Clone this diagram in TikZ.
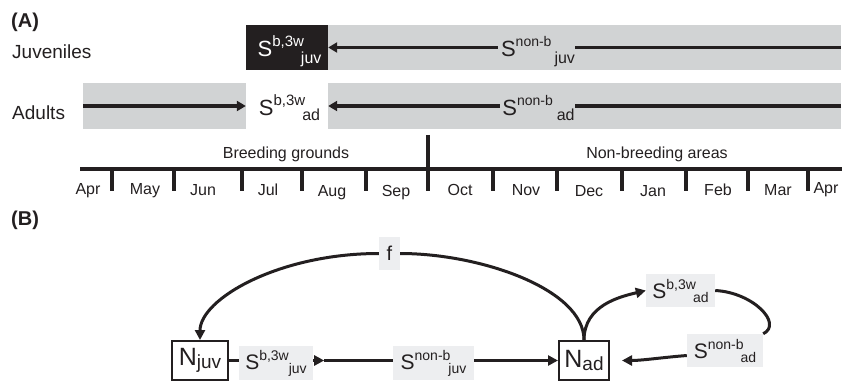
\documentclass[tikz,border=0pt]{standalone}
\usepackage{fontspec}
\setmainfont{Liberation Sans}
\usetikzlibrary{arrows.meta,calc}
\definecolor{barg}{HTML}{D1D3D4}
\definecolor{labg}{HTML}{EDEEF0}
\definecolor{ink}{HTML}{231F20}
\newcommand{\fs}[1]{\fontsize{#1}{#1}\selectfont}
\newcommand{\myup}[3]{\raisebox{#1}{\fs{#2}#3}}
\begin{document}
\begin{tikzpicture}[x=1pt,y=-1pt,
  ln/.style={line width=3pt, draw=ink},
  lnA/.style={line width=3.4pt, draw=ink},
  arr/.style={ln,-{Triangle[length=10pt,width=10pt]}},
  arrA/.style={lnA,-{Triangle[length=9pt,width=10pt]}},
  tick/.style={line width=3.3pt, draw=ink},
  mon/.style={anchor=base, font=\fs{16}, text=ink, inner sep=0},
  side/.style={anchor=base west, font=\fs{19}, text=ink, inner sep=0},
  ttl/.style={anchor=base west, font=\fs{20}\bfseries, text=ink, inner sep=0},
  cellA/.style={inner sep=0, minimum height=45pt, text height=24pt, text depth=5pt, text=ink},
  lab/.style={fill=labg, inner sep=0, minimum height=34pt, text=ink},
  nbox/.style={draw=ink, line width=2pt, inner sep=0, minimum height=39pt, text=ink}]
\useasboundingbox (0,0) rectangle (842,382);
% ---------- (A)
\node[ttl] (tA) at (11,28) {(A)};
\node[side] (juv) at (12,59) {Juveniles};
\node[side] (adu) at (12,120) {Adults};
\fill[barg] (328,25) rectangle (841,70);
\fill[barg] (83,83) rectangle (246,129);
\fill[barg] (328,83) rectangle (841,129);
\node[cellA, fill=ink, text=white, minimum width=82pt] (jbw) at (287,47.5)
  {\kern5pt\fs{22}S\myup{10pt}{15}{b,3w}\kern-3pt\myup{-7pt}{16}{juv}};
\node[cellA, minimum width=82pt, minimum height=46pt] (abw) at (287,106)
  {\kern5pt\fs{22}S\myup{10pt}{15}{b,3w}\kern-3pt\myup{-5pt}{16}{ad}};
\node[cellA, fill=barg, minimum width=77pt] (snbj) at (536.5,47.5)
  {\kern3pt\fs{22}S\myup{10pt}{14}{non-b}\kern3pt\myup{-7pt}{16}{juv}};
\node[cellA, fill=barg, minimum width=75pt] (snba) at (537.5,106)
  {\kern2pt\fs{22}S\myup{10pt}{14}{non-b}\kern4pt\myup{-5pt}{16}{ad}};
\coordinate (jR) at (841,47.5);
\coordinate (aL) at (83,106);
\coordinate (aR) at (841,106);
\draw[lnA] (jR) -- (snbj.east);
\draw[arrA] (snbj.west) -- (jbw.east);
\draw[arrA] (aL) -- (abw.west);
\draw[lnA] (aR) -- (snba.east);
\draw[arrA] (snba.west) -- (abw.east);
% timeline
\draw[tick] (80,169) -- (842,169);
\draw[tick] (428,135) -- (428,191);
\foreach \x in {112,174,242,302,366,493,557,622,686,748,808}
  \draw[tick] (\x,169) -- (\x,191);
\node[mon] (bg) at (286,158) {Breeding grounds};
\node[mon] (nb) at (657,158) {Non-breeding areas};
\foreach \x/\m/\b [count=\i] in {88/Apr/194,145/May/194,203/Jun/195,268/Jul/195,332/Aug/196,396/Sep/196,460/Oct/195,526/Nov/195,589/Dec/196,653/Jan/196,718/Feb/195,778/Mar/195,826/Apr/193}
  \node[mon] (m\i) at (\x,\b) {\m};
% ---------- (B)
\node[ttl] (tB) at (11,225) {(B)};
\node[nbox, minimum width=56pt] (njuv) at (200,360.5) {\fs{25}N\myup{-3pt}{19}{juv}};
\node[nbox, minimum width=50pt] (nad) at (584,360.5) {\fs{25}N\myup{-3pt}{19}{ad}};
\node[lab, minimum width=74pt] (sbjuv) at (276,363) {\fs{21}S\myup{9pt}{14}{b,3w}\myup{-4pt}{14}{juv}};
\node[lab, minimum width=81pt] (snbjuv) at (433.5,363) {\fs{21}S\myup{9pt}{14}{non-b}\kern-2pt\myup{-4pt}{14}{juv}};
\node[lab, minimum width=21pt, minimum height=33pt] (f) at (389.5,253.5) {\fs{20}f};
\node[lab, minimum width=69pt, minimum height=33pt] (sbad) at (680.5,290.5) {\fs{21}S\myup{9pt}{14}{b,3w}\kern-3pt\myup{-4pt}{14}{ad}};
\node[lab, minimum width=76pt, minimum height=33pt] (snbad) at (725,350.5) {\fs{21}S\myup{9pt}{14}{non-b}\kern-3pt\myup{-4pt}{14}{ad}};
\draw[ln] (njuv.east) -- (njuv.east -| sbjuv.west);
\draw[arr] (njuv.east -| sbjuv.east) -- ++(11,0) coordinate (ah);
\draw[ln] (ah) -- (ah -| snbjuv.west);
\draw[arr] (njuv.east -| snbjuv.east) -- (nad.west);
\draw[ln] (nad.north) .. controls +(0,-51) and +(80,0) .. (f.east);
\draw[arr] (f.west) .. controls +(-100,0) and +(0,-41) .. (njuv.north);
\draw[arr] (nad.north) .. controls +(0,-35) and +(-25,6) .. (sbad.west);
\draw[ln] (sbad.east) .. controls +(38,2) and +(20,-10) .. (snbad.north east);
\draw[arr] ([yshift=-5pt]snbad.west) .. controls +(-25,2) and +(20,0) .. ($(nad.east)+(12,0)$);
\end{tikzpicture}
\end{document}
